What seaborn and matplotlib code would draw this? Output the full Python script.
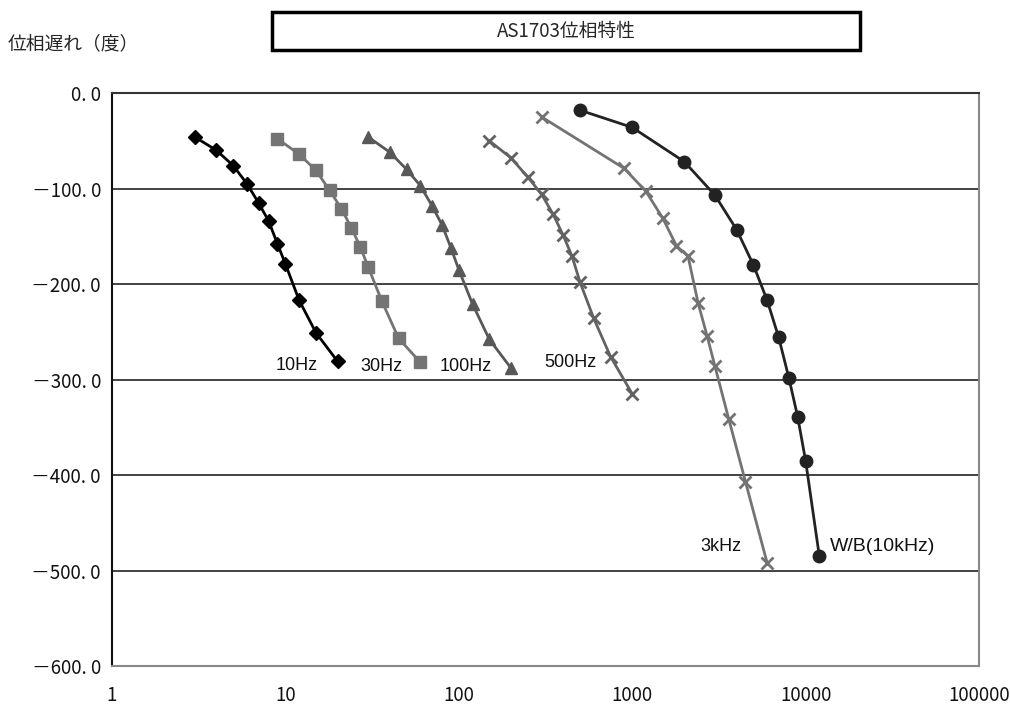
import matplotlib
matplotlib.use("Agg")
import pandas as pd
import matplotlib.pyplot as plt
import seaborn as sns
from matplotlib.patches import Rectangle

# data (frequency in Hz, phase lag in degrees)
f_10hz = [3, 4, 5, 6, 7, 8, 9, 10, 12, 15, 20]
p_10hz = [-46, -60, -76, -95, -115, -134, -158, -179, -217, -251, -281]

f_30hz = [9, 12, 15, 18, 21, 24, 27, 30, 36, 45, 60]
p_30hz = [-48, -64, -81, -102, -121, -141, -161, -182, -218, -257, -282]

f_100hz = [30, 40, 50, 60, 70, 80, 90, 100, 120, 150, 200]
p_100hz = [-46, -62, -80, -97, -118, -138, -162, -185, -221, -258, -288]

f_500hz = [150, 200, 250, 300, 350, 400, 450, 500, 600, 750, 1000]
p_500hz = [-50, -68, -88, -106, -127, -149, -171, -198, -236, -276, -315]

f_3khz = [300, 900, 1200, 1500, 1800, 2100, 2400, 2700, 3000, 3600, 4500, 6000]
p_3khz = [-25, -79, -103, -131, -160, -171, -220, -254, -286, -341, -407, -492]

f_wb = [500, 1000, 2000, 3000, 4000, 5000, 6000, 7000, 8000, 9000, 10000, 12000]
p_wb = [-18, -36, -72, -107, -143, -180, -217, -256, -298, -339, -385, -485]

series_names = ["10Hz", "30Hz", "100Hz", "500Hz", "3kHz", "W/B(10kHz)"]
y_ticks = [0, -100, -200, -300, -400, -500, -600]
y_tick_labels = ["0. 0", "－100. 0", "－200. 0", "－300. 0", "－400. 0", "－500. 0", "－600. 0"]
x_ticks = [1, 10, 100, 1000, 10000, 100000]
x_tick_labels = ["1", "10", "100", "1000", "10000", "100000"]

freqs = [f_10hz, f_30hz, f_100hz, f_500hz, f_3khz, f_wb]
phases = [p_10hz, p_30hz, p_100hz, p_500hz, p_3khz, p_wb]

styles = {
    "10Hz": dict(color="#000000", marker="D", ms=7, mew=1, off=(-20, -4), ha="right", fs=13),
    "30Hz": dict(color="#747474", marker="s", ms=8.5, mew=1, off=(-18, -4), ha="right", fs=13),
    "100Hz": dict(color="#585858", marker="^", ms=9, mew=1, off=(-19, 2), ha="right", fs=13),
    "500Hz": dict(color="#626262", marker="x", ms=8, mew=2, off=(-36, 31), ha="right", fs=13),
    "3kHz": dict(color="#737373", marker="x", ms=8, mew=2, off=(-26, 16), ha="right", fs=13),
    "W/B(10kHz)": dict(color="#222222", marker="o", ms=9, mew=1, off=(11, 10), ha="left", fs=14),
}

rows = []
for name, fs, ps in zip(series_names, freqs, phases):
    for f, p in zip(fs, ps):
        rows.append({"series": name, "freq": f, "phase": p})
df = pd.DataFrame(rows)

sns.set_style("white")
plt.rcParams["font.family"] = ["Noto Sans CJK JP", "DejaVu Sans"]

fig = plt.figure(figsize=(10.1, 7.2), dpi=100)
ax = fig.add_axes([0.1109, 0.075, 0.8584, 0.7958])

for name in series_names:
    st = styles[name]
    d = df[df["series"] == name]
    sns.lineplot(data=d, x="freq", y="phase", ax=ax, color=st["color"],
                 marker=st["marker"], markersize=st["ms"], markeredgewidth=st["mew"],
                 markeredgecolor=st["color"], linewidth=2, sort=False,
                 estimator=None, legend=False)
    last = d.iloc[-1]
    ax.annotate(name, xy=(last["freq"], last["phase"]), xytext=st["off"],
                textcoords="offset pixels", ha=st["ha"], va="center",
                fontsize=st["fs"], family=["Liberation Sans", "DejaVu Sans"], color="#111111")

ax.set_xscale("log")
ax.set_xlim(1, 100000)
ax.set_ylim(-600, 0)
ax.set_xticks(x_ticks)
ax.set_xticklabels(x_tick_labels)
ax.xaxis.set_minor_locator(matplotlib.ticker.NullLocator())
ax.set_yticks(y_ticks)
ax.set_yticklabels(y_tick_labels)
ax.tick_params(axis="both", length=0, labelsize=13.5, colors="#111111")
ax.tick_params(axis="x", pad=14)
ax.tick_params(axis="y", pad=8)
ax.set_xlabel("")
ax.set_ylabel("")

for y in y_ticks[1:-1]:
    ax.axhline(y, color="#222222", linewidth=1.2, zorder=0)

ax.spines["left"].set_color("#111111")
ax.spines["top"].set_color("#333333")
ax.spines["right"].set_color("#888888")
ax.spines["bottom"].set_color("#888888")
for s in ax.spines.values():
    s.set_linewidth(1.5)

# title box
fig.add_artist(Rectangle((272 / 1010, 1 - 50 / 720), 588 / 1010, 38 / 720,
                         transform=fig.transFigure, fill=False,
                         edgecolor="black", linewidth=2.5))
fig.text(566 / 1010, 1 - 31 / 720, "AS1703位相特性", ha="center", va="center", fontsize=13.5)
fig.text(8 / 1010, 1 - 44 / 720, "位相遅れ（度）", ha="left", va="center", fontsize=13.5)

fig.savefig("out.png", dpi=100)
